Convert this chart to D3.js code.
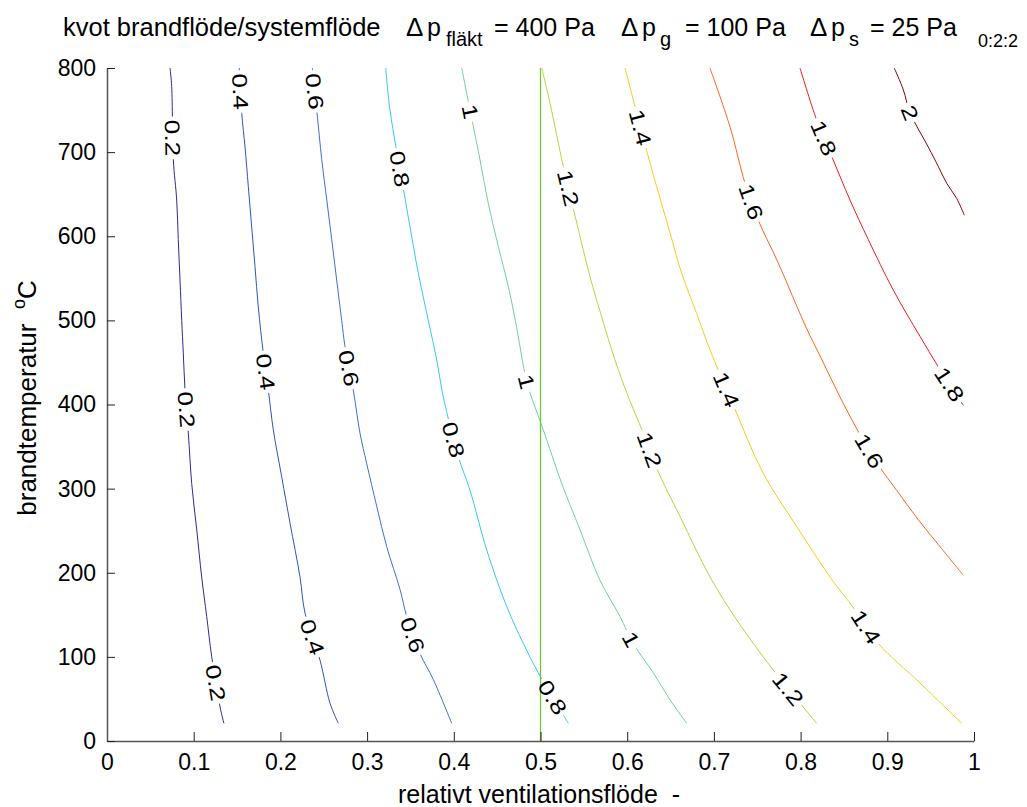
<!DOCTYPE html>
<html>
<head>
<meta charset="utf-8">
<script src="https://cdn.jsdelivr.net/npm/d3@7"></script>
<style>
  body { margin: 0; background: #fff; }
  svg text { font-family: "Liberation Sans", Arial, Helvetica, sans-serif; fill: #000; }
</style>
</head>
<body>
<svg id="chart" width="1027" height="807"></svg>
<script>
// Contour levels of the ratio fire flow / system flow, and their colours
const levels = [0.2, 0.4, 0.6, 0.8, 1.0, 1.2, 1.4, 1.6, 1.8, 2.0];
const levelColors = ["#2b2b94", "#2f52c4", "#3b70d6", "#38c6f2", "#6fd09c",
                     "#b5d63c", "#fcc81a", "#ff6420", "#ee1c1c", "#880000"];

// Each contour: [relative ventilation flow, fire temperature °C]
const c02 = [[0.0727,800],[0.0746,778],[0.0765,691],[0.0804,643],[0.0822,596],[0.0842,548],[0.0862,500],[0.0880,461],[0.0900,417],[0.0938,366],[0.0977,306],[0.1035,251],[0.1092,195],[0.1150,148],[0.1208,100],[0.1311,37],[0.1349,21]];
const c04 = [[0.1526,800],[0.1554,746],[0.1592,706],[0.1630,659],[0.1669,611],[0.1707,564],[0.1745,516],[0.1803,461],[0.1861,417],[0.1918,370],[0.2015,314],[0.2111,259],[0.2226,195],[0.2284,152],[0.2457,96],[0.2572,45],[0.2668,21]];
const c06 = [[0.2368,800],[0.2419,750],[0.2477,691],[0.2535,643],[0.2592,596],[0.2649,548],[0.2707,500],[0.2745,469],[0.2841,417],[0.2918,366],[0.2995,330],[0.3111,279],[0.3226,231],[0.3380,180],[0.3457,148],[0.3610,104],[0.3764,73],[0.3976,21]];
const c08 = [[0.3215,800],[0.3264,750],[0.3418,657],[0.3495,611],[0.3591,556],[0.3706,500],[0.3803,453],[0.3879,409],[0.4052,338],[0.4187,298],[0.4380,227],[0.4610,160],[0.4802,116],[0.4975,81],[0.5263,31],[0.5321,21]];
const c10 = [[0.4091,800],[0.4207,740],[0.4302,691],[0.4398,639],[0.4513,588],[0.4629,540],[0.4710,500],[0.4844,426],[0.4937,397],[0.5032,370],[0.5245,306],[0.5456,251],[0.5686,191],[0.5917,148],[0.6070,116],[0.6301,81],[0.6494,49],[0.6686,21]];
const c12 = [[0.5014,800],[0.5110,758],[0.5263,683],[0.5378,633],[0.5571,552],[0.5706,504],[0.5859,453],[0.6013,409],[0.6186,366],[0.6340,324],[0.6609,267],[0.6955,195],[0.7263,144],[0.7724,79],[0.7993,45],[0.8186,21]];
const c14 = [[0.5975,800],[0.6205,709],[0.6340,659],[0.6494,604],[0.6628,556],[0.6802,508],[0.6955,465],[0.7224,399],[0.7570,318],[0.7955,255],[0.8339,195],[0.8627,156],[0.8896,116],[0.9377,69],[0.9858,21]];
const c16 = [[0.6955,800],[0.7186,730],[0.7359,663],[0.7512,619],[0.7743,568],[0.8062,492],[0.8247,453],[0.8454,409],[0.8697,362],[0.8896,328],[0.9108,298],[0.9358,263],[0.9608,231],[0.9877,197]];
const c18 = [[0.7993,800],[0.8186,738],[0.8359,695],[0.8570,643],[0.8781,596],[0.9069,536],[0.9377,481],[0.9588,445],[0.9877,399]];
const c20 = [[0.9080,800],[0.9185,774],[0.9262,747],[0.9473,706],[0.9588,683],[0.9685,663],[0.9800,645],[0.9888,625]];
const contourLines = [c02, c04, c06, c08, c10, c12, c14, c16, c18, c20];

// Temperatures at which the inline level labels sit on each contour
const labelTemps = [
  [717, 394, 69],
  [772, 439, 124],
  [772, 443, 126],
  [680, 358, 52],
  [748, 427, 121],
  [657, 346, 62],
  [729, 418, 136],
  [641, 345],
  [717, 424],
  [747]
];

// Reference flow drawn as a vertical line
const refFlow = 0.5;

// Axis ticks
const xTicks = [0, 0.1, 0.2, 0.3, 0.4, 0.5, 0.6, 0.7, 0.8, 0.9, 1];
const xTickLabels = ["0", "0.1", "0.2", "0.3", "0.4", "0.5", "0.6", "0.7", "0.8", "0.9", "1"];
const yTicks = [0, 100, 200, 300, 400, 500, 600, 700, 800];
const yTickLabels = ["0", "100", "200", "300", "400", "500", "600", "700", "800"];

const svg = d3.select("#chart");
const x = d3.scaleLinear().domain([0, 1]).range([107, 974]);
const y = d3.scaleLinear().domain([0, 800]).range([741, 68]);

const defs = svg.append("defs");
const gLines = svg.append("g");
const gRef = svg.append("g");
const gLabels = svg.append("g");
const gAxes = svg.append("g");

const line = d3.line()
  .x(d => x(d[0]))
  .y(d => y(d[1]))
  .curve(d3.curveCatmullRom.alpha(0.5));

const labelFont = 21;
const labelStretch = 1.25;

contourLines.forEach((pts, i) => {
  const maskId = "gap" + i;
  const mask = defs.append("mask").attr("id", maskId)
    .attr("maskUnits", "userSpaceOnUse")
    .attr("x", 0).attr("y", 0).attr("width", 1027).attr("height", 807);
  mask.append("rect").attr("x", 0).attr("y", 0).attr("width", 1027).attr("height", 807).attr("fill", "#fff");

  const path = gLines.append("path")
    .attr("d", line(pts))
    .attr("fill", "none")
    .attr("stroke", levelColors[i])
    .attr("stroke-width", 1)
    .attr("mask", `url(#${maskId})`);

  const node = path.node();
  const L = node.getTotalLength();
  const samples = d3.range(0, L, 0.5).map(l => ({ l, p: node.getPointAtLength(l) }));

  const txt = d3.format("")(levels[i]);
  labelTemps[i].forEach(t => {
    const py = y(t);
    const best = samples.reduce((a, b) => Math.abs(b.p.y - py) < Math.abs(a.p.y - py) ? b : a);
    const p = best.p;
    const p1 = node.getPointAtLength(Math.max(0, best.l - 10));
    const p2 = node.getPointAtLength(Math.min(L, best.l + 10));
    let ang = Math.atan2(p2.y - p1.y, p2.x - p1.x) * 180 / Math.PI;
    if (ang > 90) ang -= 180;
    if (ang < -90) ang += 180;

    const label = gLabels.append("text")
      .attr("transform", `translate(${p.x},${p.y}) rotate(${ang})`)
      .attr("text-anchor", "middle")
      .attr("dy", "0.36em")
      .attr("font-size", labelFont)
      .text(txt);
    const w = label.node().getComputedTextLength() * labelStretch;
    label.attr("textLength", w).attr("lengthAdjust", "spacingAndGlyphs");
    mask.append("rect")
      .attr("x", -w / 2 - 3).attr("y", -labelFont * 0.45)
      .attr("width", w + 6).attr("height", labelFont * 0.9)
      .attr("fill", "#000")
      .attr("transform", `translate(${p.x},${p.y}) rotate(${ang})`);
  });
});

// vertical reference line
gRef.append("line")
  .attr("x1", x(refFlow)).attr("x2", x(refFlow))
  .attr("y1", y(0)).attr("y2", y(800))
  .attr("stroke", "#66cc33").attr("stroke-width", 1.2);

// axes with inward ticks
const xAxis = d3.axisBottom(x).tickValues(xTicks)
  .tickFormat((d, i) => xTickLabels[i])
  .tickSizeInner(-9).tickSizeOuter(0).tickPadding(13);
const yAxis = d3.axisLeft(y).tickValues(yTicks)
  .tickFormat((d, i) => yTickLabels[i])
  .tickSizeInner(-8).tickSizeOuter(0).tickPadding(11);

const gx = gAxes.append("g").attr("transform", `translate(0,${y(0)})`).call(xAxis);
const gy = gAxes.append("g").attr("transform", `translate(${x(0)},0)`).call(yAxis);
[gx, gy].forEach(g => {
  g.select(".domain").attr("stroke", "#555").attr("stroke-width", 1.5);
  g.selectAll(".tick line").attr("stroke", "#222").attr("stroke-width", 1);
  g.selectAll(".tick text").attr("font-size", 23).attr("fill", "#000")
    .attr("font-family", '"Liberation Sans", Arial, sans-serif');
});

// axis titles
svg.append("text")
  .attr("x", 539).attr("y", 803)
  .attr("text-anchor", "middle")
  .attr("font-size", 25)
  .attr("xml:space", "preserve")
  .text("relativt ventilationsflöde  -");

const yl = svg.append("text")
  .attr("transform", "translate(36,398) rotate(-90)")
  .attr("text-anchor", "middle")
  .attr("font-size", 26)
  .attr("xml:space", "preserve");
yl.append("tspan").text("brandtemperatur  ");
yl.append("tspan").attr("font-size", 18).attr("dy", -11).text("o");
yl.append("tspan").attr("dy", 11).text("C");

// title
const titleY = 36;
svg.append("text").attr("x", 63).attr("y", titleY).attr("font-size", 25.5)
  .text("kvot brandflöde/systemflöde");

// Δp term: x positions of Δ, p, subscript and the "= value" part
function dpTerm(xs, sub, rest) {
  const t = svg.append("text").attr("y", titleY).attr("font-size", 25);
  t.append("tspan").attr("x", xs[0]).attr("font-size", 26).text("Δ");
  t.append("tspan").attr("x", xs[1]).text("p");
  t.append("tspan").attr("x", xs[2]).attr("font-size", 20).attr("dy", 10).text(sub);
  t.append("tspan").attr("x", xs[3]).attr("dy", -10).text(rest);
}
dpTerm([406, 427, 446, 494], "fläkt", "= 400 Pa");
dpTerm([621, 642, 660, 685], "g", "= 100 Pa");
dpTerm([810, 831, 849, 870], "s", "= 25 Pa");

svg.append("text").attr("x", 978).attr("y", 47).attr("font-size", 18).text("0:2:2");
</script>
</body>
</html>
